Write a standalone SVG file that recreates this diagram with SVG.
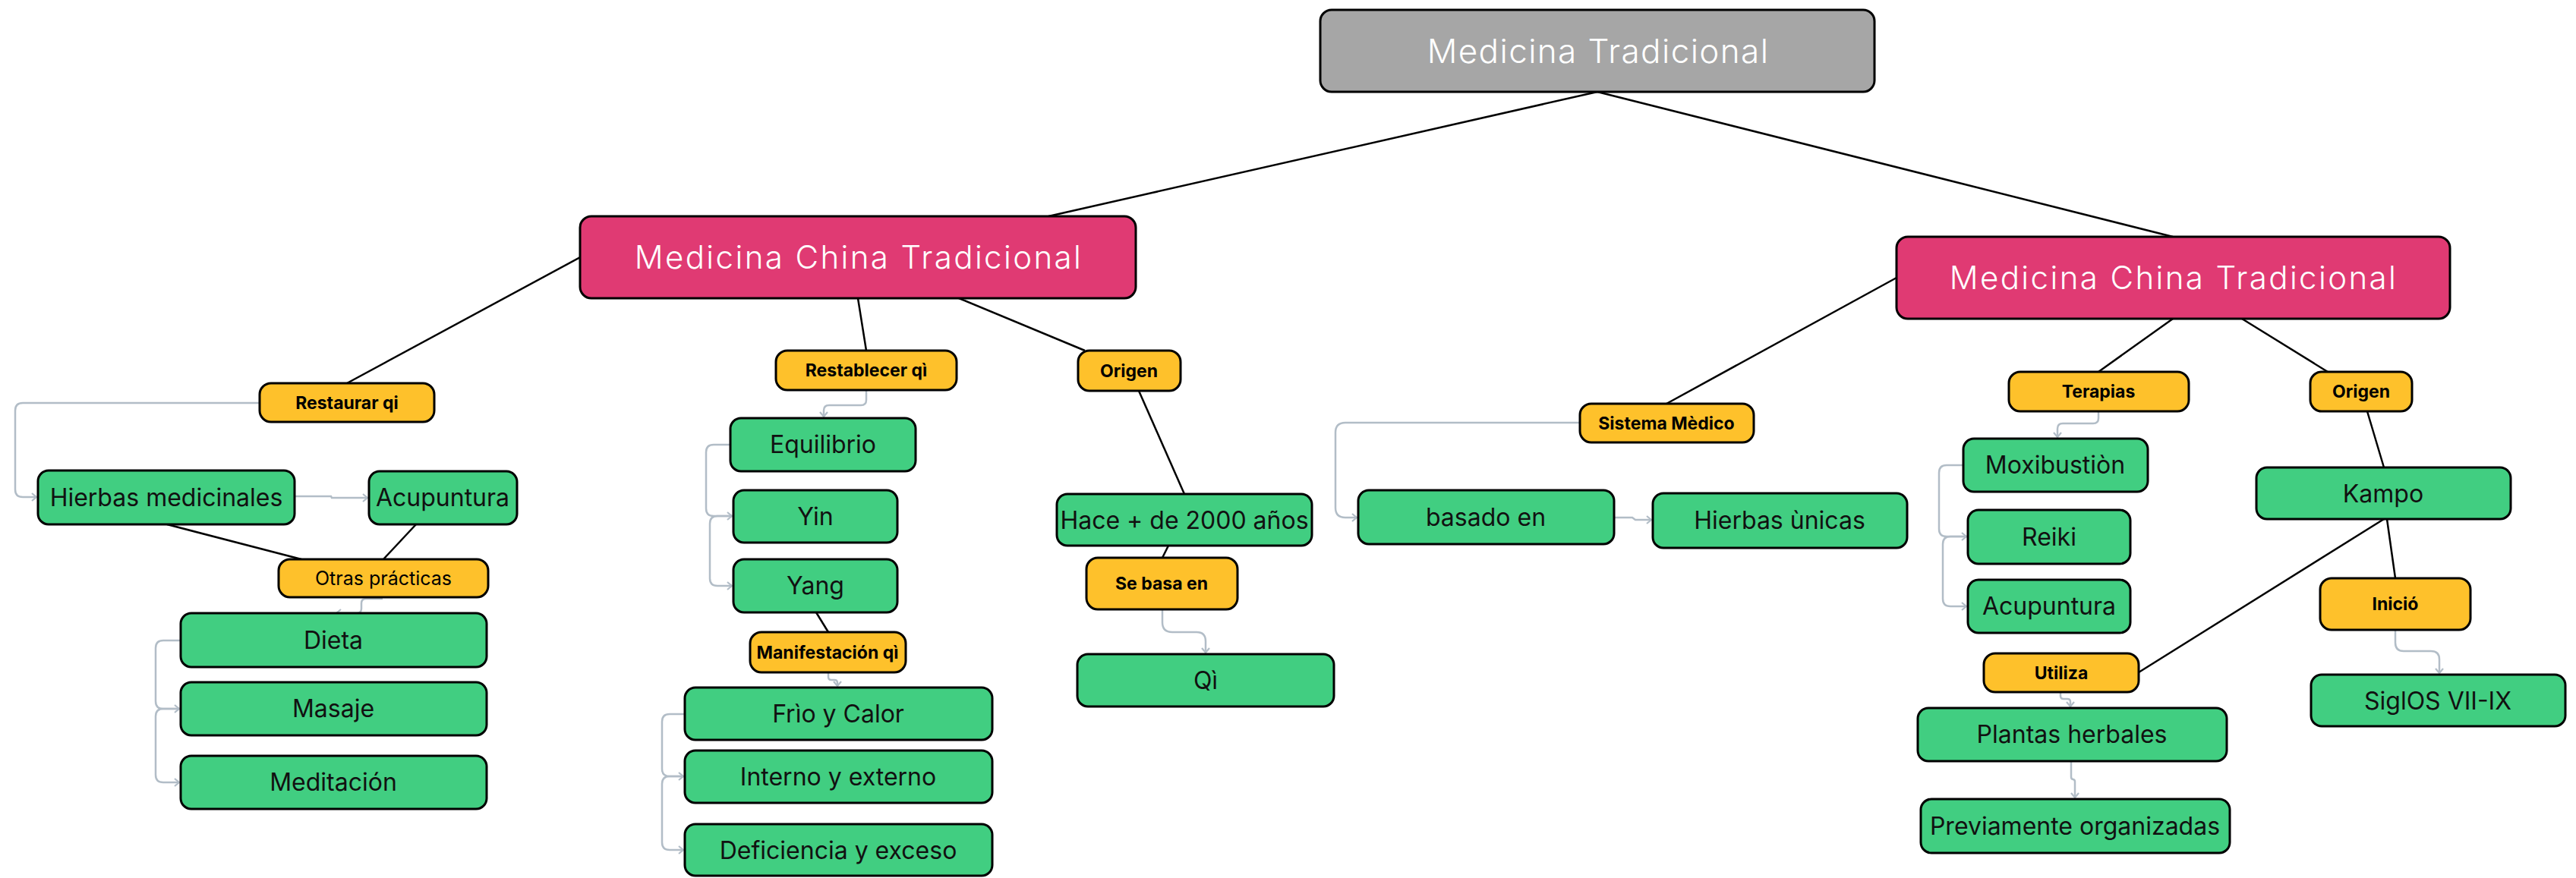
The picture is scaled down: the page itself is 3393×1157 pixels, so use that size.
<svg xmlns="http://www.w3.org/2000/svg" width="3393" height="1157" viewBox="0 0 3393 1157">
<style>
.n rect{stroke:#000;stroke-width:3}
.root rect{fill:#A6A6A6}
.pink rect{fill:#E03A73}
.yel rect{fill:#FEC12B}
.grn rect{fill:#41CE81}
text{font-family:Inter,"Liberation Sans",Arial,sans-serif;text-anchor:middle}
.root text,.pink text{fill:#fff;font-weight:300}
.root text{font-size:44px;letter-spacing:1.4px}
.pink text{font-size:42px;letter-spacing:2.4px}
.grn text{font-size:32px;fill:#111}
.yel text{font-size:23px;font-weight:700;fill:#000}
.yel text.reg{font-size:25px;font-weight:400}
.lk{stroke:#000;stroke-width:2.5;fill:none}
.ar{stroke:#B2BDC7;stroke-width:2.5;fill:none;marker-end:url(#ah)}
</style>
<defs>
<marker id="ah" markerUnits="userSpaceOnUse" viewBox="-8 -7 10 14" markerWidth="10" markerHeight="14" refX="0" refY="0" orient="auto">
<path d="M-6,-5 L0,0 L-6,5" fill="none" stroke="#B2BDC7" stroke-width="2.2"/>
</marker>
</defs>
<rect width="3393" height="1157" fill="#fff"/>
<g id="connectors">
<path class="lk" d="M2104,121 L1381,285"/>
<path class="lk" d="M2104,121 L2862,312"/>
<path class="lk" d="M764,339 L457,505"/>
<path class="lk" d="M1130,393 L1141,462"/>
<path class="lk" d="M1263,393 L1429,462"/>
<path class="lk" d="M220,691 L397,737"/>
<path class="lk" d="M548,691 L505,737"/>
<path class="lk" d="M1075,807 L1091,833"/>
<path class="lk" d="M1500,515 L1560,651"/>
<path class="lk" d="M1539,719 L1531,735"/>
<path class="lk" d="M2498,366 L2195,532"/>
<path class="lk" d="M2862,420 L2764,490"/>
<path class="lk" d="M2953,420 L3066,490"/>
<path class="lk" d="M3118,542 L3140,616"/>
<path class="lk" d="M3144,684 L3155,762"/>
<path class="lk" d="M3140,684 L2817,886"/>
<path class="ar" d="M342,531 H30 q-10,0 -10,10 V645 q0,10 10,10 H48"/>
<path class="ar" d="M388,654 H436 L437,656 H484"/>
<path class="ar" d="M504,789 H482 q-6,0 -6,6 V802 q0,6 -6,6 H443"/>
<path class="ar" d="M238,844 H215 q-10,0 -10,10 V924 q0,10 10,10 H236"/>
<path class="ar" d="M238,934 H215 q-10,0 -10,10 V1021 q0,10 10,10 H236"/>
<path class="ar" d="M1141,515 V527 q0,7 -7,7 H1092 q-7,0 -7,7 V549"/>
<path class="ar" d="M962,586 H940 q-10,0 -10,10 V670 q0,10 10,10 H964"/>
<path class="ar" d="M966,680 H945 q-10,0 -10,10 V762 q0,10 10,10 H964"/>
<path class="ar" d="M1091,887 V892 q0,4 4,4 H1099 q4,0 4,4 V904"/>
<path class="ar" d="M902,941 H882 q-10,0 -10,10 V1013 q0,10 10,10 H900"/>
<path class="ar" d="M902,1023 H882 q-10,0 -10,10 V1110 q0,10 10,10 H900"/>
<path class="ar" d="M1531,804 V820 q0,13 13,13 H1576 q12,0 12,12 V860"/>
<path class="ar" d="M2081,557 H1772 q-13,0 -13,13 V669 q0,13 13,13 H1787"/>
<path class="ar" d="M2127,682 H2150 L2154,685 H2175"/>
<path class="ar" d="M2764,543 V551 q0,7 -7,7 H2717 q-7,0 -7,7 V576"/>
<path class="ar" d="M2586,613 H2564 q-10,0 -10,10 V697 q0,10 10,10 H2590"/>
<path class="ar" d="M2592,707 H2569 q-10,0 -10,10 V789 q0,10 10,10 H2590"/>
<path class="ar" d="M3155,831 V847 q0,11 11,11 H3202 q11,0 11,11 V887"/>
<path class="ar" d="M2714,913 V917 q0,4 4,4 H2723 q4,0 4,4 V931"/>
<path class="ar" d="M2728,1004 V1024 q0,3 3,3 H2730 q3,0 3,3 V1051"/>
</g>
<g id="root" class="n root"><rect x="1739" y="13" width="730" height="108" rx="15"/><text x="2105" y="83">Medicina Tradicional</text></g>
<g id="mct-left" class="n pink"><rect x="764" y="285" width="732" height="108" rx="15"/><text x="1131" y="354">Medicina China Tradicional</text></g>
<g id="mct-right" class="n pink"><rect x="2498" y="312" width="729" height="108" rx="15"/><text x="2863" y="381">Medicina China Tradicional</text></g>
<g id="restaurar" class="n yel"><rect x="342" y="505" width="230" height="51" rx="15"/><text x="457" y="539">Restaurar qi</text></g>
<g id="hierbas" class="n grn"><rect x="50" y="620" width="338" height="71" rx="14"/><text x="219" y="667">Hierbas medicinales</text></g>
<g id="acup-left" class="n grn"><rect x="486" y="621" width="195" height="70" rx="14"/><text x="583" y="667">Acupuntura</text></g>
<g id="otras" class="n yel"><rect x="367" y="737" width="276" height="50" rx="15"/><text class="reg" x="505" y="771">Otras prácticas</text></g>
<g id="dieta" class="n grn"><rect x="238" y="808" width="403" height="71" rx="14"/><text x="439" y="855">Dieta</text></g>
<g id="masaje" class="n grn"><rect x="238" y="899" width="403" height="70" rx="14"/><text x="439" y="945">Masaje</text></g>
<g id="meditacion" class="n grn"><rect x="238" y="996" width="403" height="70" rx="14"/><text x="439" y="1042">Meditación</text></g>
<g id="restablecer" class="n yel"><rect x="1022" y="462" width="238" height="52" rx="15"/><text x="1141" y="496">Restablecer qì</text></g>
<g id="equilibrio" class="n grn"><rect x="962" y="551" width="244" height="70" rx="14"/><text x="1084" y="597">Equilibrio</text></g>
<g id="yin" class="n grn"><rect x="966" y="646" width="216" height="69" rx="14"/><text x="1074" y="692">Yin</text></g>
<g id="yang" class="n grn"><rect x="966" y="737" width="216" height="70" rx="14"/><text x="1074" y="783">Yang</text></g>
<g id="manifestacion" class="n yel"><rect x="988" y="833" width="205" height="53" rx="15"/><text x="1090" y="868">Manifestación qì</text></g>
<g id="frio" class="n grn"><rect x="902" y="906" width="405" height="69" rx="14"/><text x="1104" y="952">Frìo y Calor</text></g>
<g id="interno" class="n grn"><rect x="902" y="989" width="405" height="69" rx="14"/><text x="1104" y="1035">Interno y externo</text></g>
<g id="deficiencia" class="n grn"><rect x="902" y="1086" width="405" height="68" rx="14"/><text x="1104" y="1132">Deficiencia y exceso</text></g>
<g id="origen-left" class="n yel"><rect x="1420" y="462" width="135" height="53" rx="15"/><text x="1487" y="497">Origen</text></g>
<g id="hace" class="n grn"><rect x="1392" y="651" width="336" height="68" rx="14"/><text x="1560" y="697">Hace + de 2000 años</text></g>
<g id="sebasa" class="n yel"><rect x="1431" y="735" width="199" height="68" rx="15"/><text x="1530" y="777">Se basa en</text></g>
<g id="qi" class="n grn"><rect x="1419" y="862" width="338" height="69" rx="14"/><text x="1588" y="908">Qì</text></g>
<g id="sistema" class="n yel"><rect x="2081" y="532" width="229" height="51" rx="15"/><text x="2195" y="566">Sistema Mèdico</text></g>
<g id="basado" class="n grn"><rect x="1789" y="646" width="337" height="71" rx="14"/><text x="1957" y="693">basado en</text></g>
<g id="hierbas-unicas" class="n grn"><rect x="2177" y="650" width="335" height="72" rx="14"/><text x="2344" y="697">Hierbas ùnicas</text></g>
<g id="terapias" class="n yel"><rect x="2646" y="490" width="237" height="52" rx="15"/><text x="2764" y="524">Terapias</text></g>
<g id="moxibustion" class="n grn"><rect x="2586" y="578" width="243" height="70" rx="14"/><text x="2707" y="624">Moxibustiòn</text></g>
<g id="reiki" class="n grn"><rect x="2592" y="672" width="214" height="71" rx="14"/><text x="2699" y="719">Reiki</text></g>
<g id="acup-right" class="n grn"><rect x="2592" y="764" width="214" height="70" rx="14"/><text x="2699" y="810">Acupuntura</text></g>
<g id="origen-right" class="n yel"><rect x="3043" y="490" width="134" height="52" rx="15"/><text x="3110" y="524">Origen</text></g>
<g id="kampo" class="n grn"><rect x="2972" y="616" width="335" height="68" rx="14"/><text x="3139" y="662">Kampo</text></g>
<g id="inicio" class="n yel"><rect x="3056" y="762" width="198" height="68" rx="15"/><text x="3155" y="804">Inició</text></g>
<g id="siglos" class="n grn"><rect x="3044" y="889" width="335" height="68" rx="14"/><text x="3211" y="935">SiglOS VII-IX</text></g>
<g id="utiliza" class="n yel"><rect x="2613" y="861" width="204" height="51" rx="15"/><text x="2715" y="895">Utiliza</text></g>
<g id="plantas" class="n grn"><rect x="2526" y="933" width="407" height="70" rx="14"/><text x="2729" y="979">Plantas herbales</text></g>
<g id="previamente" class="n grn"><rect x="2530" y="1053" width="407" height="71" rx="14"/><text x="2733" y="1100">Previamente organizadas</text></g>
</svg>
